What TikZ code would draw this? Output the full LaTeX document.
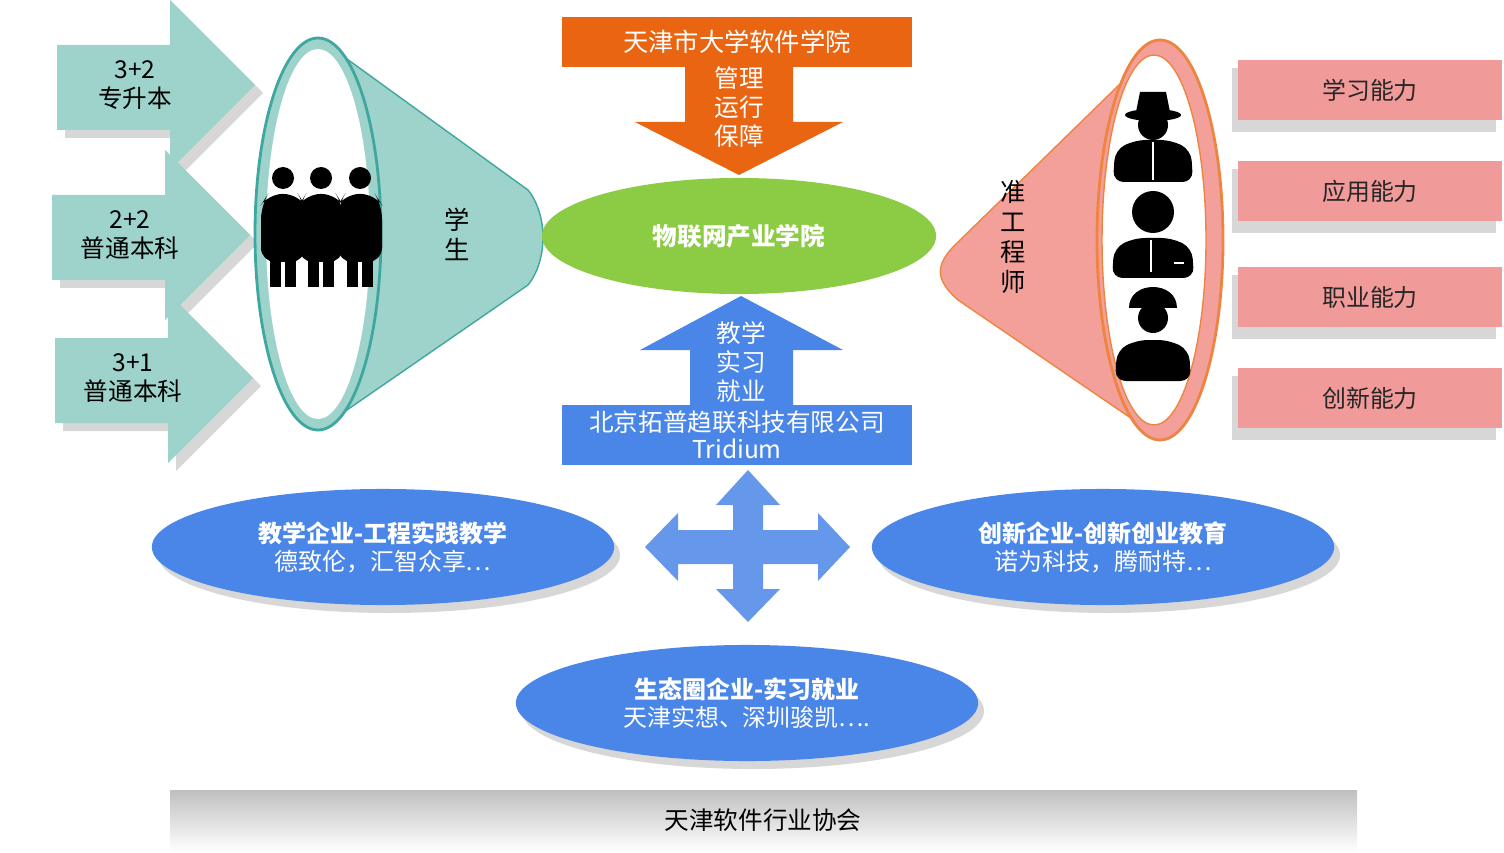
\documentclass[tikz,border=0pt]{standalone}
\usepackage{fontspec}
\setmainfont{Noto Sans CJK SC}
\usetikzlibrary{shapes.geometric,shadings}
\definecolor{teal1}{HTML}{9DD3CB}
\definecolor{teal2}{HTML}{3FA7A0}
\definecolor{orng}{HTML}{EA6512}
\definecolor{grn}{HTML}{8CCB44}
\definecolor{blu}{HTML}{4A86E8}
\definecolor{salm}{HTML}{F4A09A}
\definecolor{pinkbox}{HTML}{F09A9A}
\tikzset{
    txt/.style={font=\fontsize{6.8}{8}\selectfont,align=center},
    shd/.style={fill=black!35,opacity=0.45},
    oval/.style={ellipse,fill=blu,minimum width=4.62cm,minimum height=1.16cm,
        text=white,txt,inner sep=0pt},
    skill/.style={fill=pinkbox,minimum width=2.64cm,minimum height=0.6cm,
        txt,text=black!85}
}
\newcommand{\rarrow}[3]{% body left x, top y of head, text
    \fill[shd] (#1+8,#2+53) -- (#1+113+8,#2+53) -- (#1+113+8,#2+8) -- (#1+198+8,#2+93)
        -- (#1+113+8,#2+178) -- (#1+113+8,#2+138) -- (#1+8,#2+138) -- cycle;
    \fill[teal1] (#1,#2+45) -- (#1+113,#2+45) -- (#1+113,#2) -- (#1+198,#2+85)
        -- (#1+113,#2+170) -- (#1+113,#2+130) -- (#1,#2+130) -- cycle;
    \node[txt,font=\fontsize{7}{8.3}\selectfont] at (#1+78,#2+85) {#3};
}
\newcommand{\person}[1]{% centre x
    \fill (#1,178) circle (11);
    \fill[rounded corners=4] (#1-22,262) -- (#1-22,205) -- (#1-15,194) -- (#1+15,194)
        -- (#1+22,205) -- (#1+22,262) -- cycle;
    \fill (#1-13,250) rectangle (#1-2,287);
    \fill (#1+2,250) rectangle (#1+13,287);
}
\begin{document}
\begin{tikzpicture}[x=0.01cm,y=-0.01cm]
\useasboundingbox (0,0) rectangle (1504,852);
% left arrows
\rarrow{57}{0}{3+2\\专升本}
\rarrow{52}{150}{2+2\\普通本科}
\rarrow{55}{293}{3+1\\普通本科}
% student funnel
\fill[teal1,draw=teal2] (318,38) -- (528,190) .. controls (548,215) and (548,260) .. (528,285)
    -- (318,430) -- cycle;
\fill[teal1,draw=teal2,thick] (318,234) ellipse [x radius=63, y radius=196];
\fill[white] (318,234) ellipse [x radius=52, y radius=185];
\person{283}\person{321}\person{360}
\node[txt,font=\fontsize{7.2}{8.5}\selectfont] (xs) at (457,234) {学\\生};
% top college and arrow
\node[fill=orng,minimum width=3.49cm,minimum height=0.5cm,text=white,txt,
    font=\fontsize{7.2}{8.5}\selectfont] (tj) at (737,42) {天津市大学软件学院};
\fill[orng] (685,67) -- (793,67) -- (793,122) -- (843,122) -- (739,175) -- (635,122)
    -- (685,122) -- cycle;
\node[txt,text=white,font=\fontsize{7}{8.3}\selectfont] (gl) at (739,107) {管理\\运行\\保障};
\node[ellipse,fill=grn,minimum width=3.94cm,minimum height=1.16cm,text=white,
    txt,font=\bfseries\fontsize{7}{8}\selectfont] (wl) at (739,236) {物联网产业学院};
% company and up arrow
\fill[blu] (741,296) -- (843,350) -- (793,350) -- (793,405) -- (690,405) -- (690,350)
    -- (640,350) -- cycle;
\node[txt,text=white,font=\fontsize{7}{8.3}\selectfont] (jx) at (741,362) {教学\\实习\\就业};
\node[fill=blu,minimum width=3.49cm,minimum height=0.6cm,text=white,txt,
    font=\fontsize{7}{7.8}\selectfont,inner sep=0pt] (bj) at (737,435)
    {北京拓普趋联科技有限公司\\Tridium};
% cross arrow
\fill[blu!85] (748,470) -- (780,505) -- (763,505) -- (763,530) -- (818,530) -- (818,513)
    -- (850,547) -- (818,581) -- (818,564) -- (763,564) -- (763,589) -- (780,589)
    -- (748,622) -- (716,589) -- (733,589) -- (733,564) -- (678,564) -- (678,581)
    -- (645,547) -- (678,513) -- (678,530) -- (733,530) -- (733,505) -- (716,505) -- cycle;
% enterprise ovals
\foreach \cx/\cy in {383/547,1103/547,747/703}
    \fill[shd] (\cx+6,\cy+8) ellipse [x radius=231, y radius=58];
\node[oval] (jq) at (383,547) {\textbf{教学企业-工程实践教学}\\德致伦，汇智众享…};
\node[oval] (cq) at (1103,547) {\textbf{创新企业-创新创业教育}\\诺为科技，腾耐特…};
\node[oval] (sq) at (747,703) {\textbf{生态圈企业-实习就业}\\天津实想、深圳骏凯….};
% engineer funnel
\fill[salm,draw=orng!80] (1160,45) -- (955,245) .. controls (935,265) and (935,280) .. (958,300)
    -- (1160,438) -- cycle;
\fill[salm,draw=orng!80,thick] (1160,240) ellipse [x radius=63, y radius=200];
\fill[white,draw=orng!80] (1154,240) ellipse [x radius=52, y radius=185];
\node[txt,font=\fontsize{7.2}{8.6}\selectfont] (zg) at (1013,237) {准\\工\\程\\师};
% icons
\fill (1153,115) ellipse [x radius=28, y radius=6];
\fill (1136,112) -- (1140,92) -- (1166,92) -- (1170,112) -- cycle;
\fill (1153,125) circle (15);
\fill[rounded corners=3] (1113,182) -- (1115,150) -- (1135,140) -- (1171,140) -- (1191,150)
    -- (1193,182) -- cycle;
\draw[white,thick] (1153,142) -- (1153,180);
\fill (1153,212) circle (21);
\fill[rounded corners=3] (1112,278) -- (1114,248) -- (1134,238) -- (1172,238) -- (1192,248)
    -- (1194,278) -- cycle;
\draw[white,thick] (1151,240) -- (1151,272) (1174,263) -- (1184,263);
\fill (1129,308) .. controls (1129,280) and (1177,280) .. (1177,308) -- cycle;
\fill (1153,318) circle (15);
\fill[rounded corners=3] (1115,381) -- (1117,350) -- (1137,340) -- (1169,340) -- (1189,350)
    -- (1191,381) -- cycle;
% skills
\foreach \y/\t/\n in {90/学习能力/s1,191/应用能力/s2,297/职业能力/s3,398/创新能力/s4}{
    \fill[shd] (1232,\y-22) rectangle (1496,\y+42);
    \node[skill] (\n) at (1370,\y) {\t};
}
% association bar
\shade[top color=black!25,bottom color=white] (170,790) rectangle (1357,852);
\node[txt,font=\fontsize{7}{8.3}\selectfont] (xh) at (763,820) {天津软件行业协会};
\end{tikzpicture}
\end{document}
